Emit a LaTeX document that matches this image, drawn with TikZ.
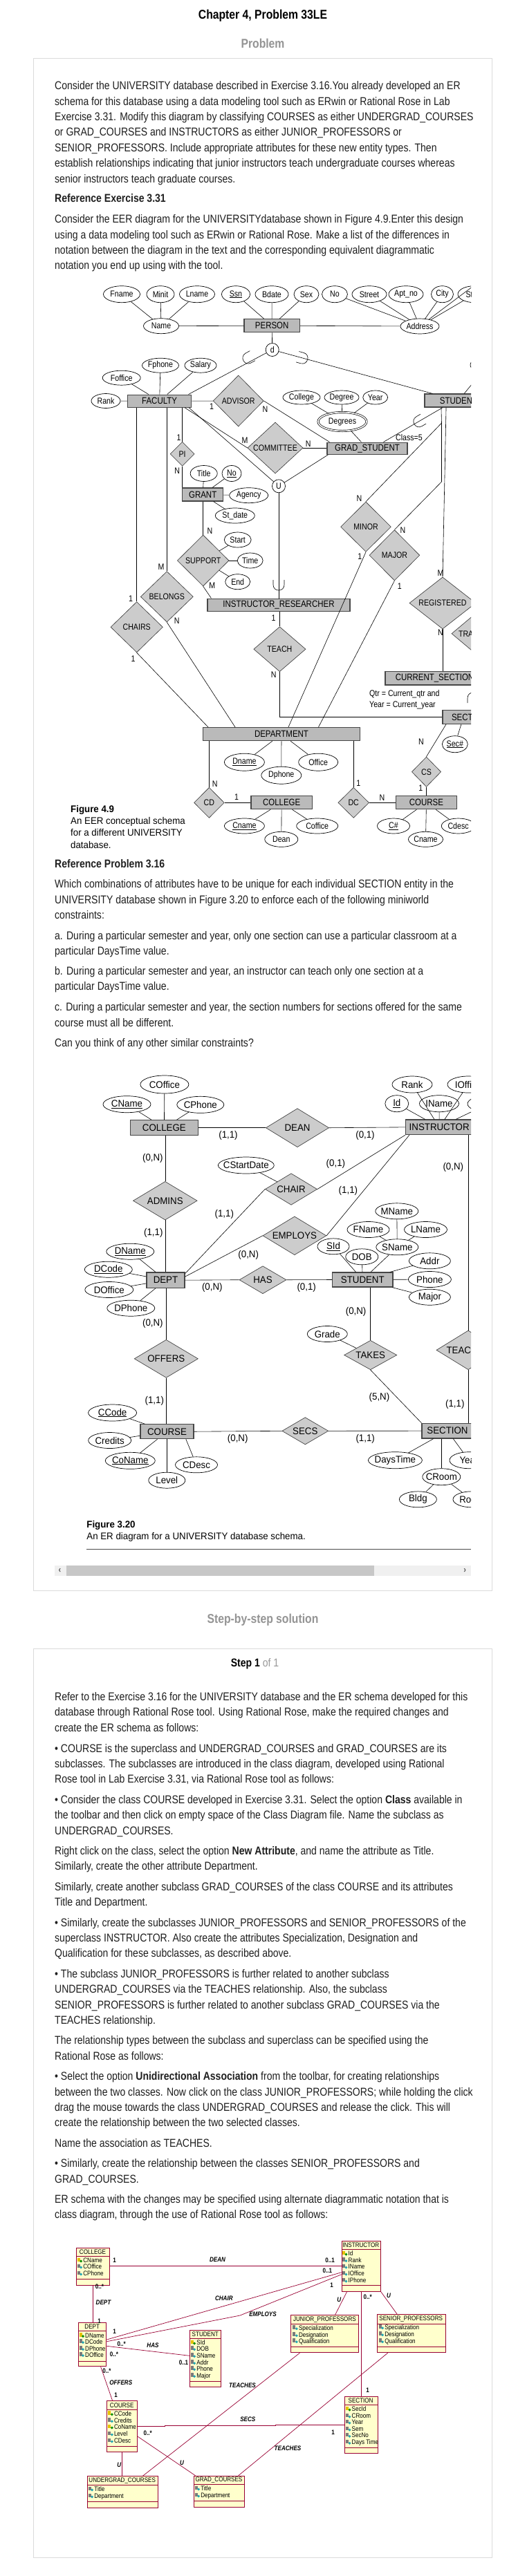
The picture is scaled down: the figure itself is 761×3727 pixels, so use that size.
\documentclass[tikz,border=0pt]{standalone}
\usepackage{fontspec}
\setmainfont{Liberation Sans}[FakeStretch=0.85]
\newfontfamily\figB{Liberation Sans}[FakeStretch=0.95]
\usetikzlibrary{shapes.geometric}
\definecolor{umlred}{HTML}{990033}
\definecolor{umlyel}{HTML}{FFFFCC}
\definecolor{icgray}{HTML}{7A7A7A}
\definecolor{iccyan}{HTML}{22A6B3}
\definecolor{icyel}{HTML}{E6C200}
\newcommand\fsz[1]{\fontsize{#1}{#1}\selectfont}
\newcommand\TL[2]{\node[txt] at (79,#1) {#2};}
\newcommand\At[5]{\node[att,minimum width=#4pt,minimum height=#5pt] (#1) at (#2) {};\node[albl] (#1-t) at (#1.center) {#3};}
\newcommand\Rl[5]{\node[rel,minimum width=#4pt,minimum height=#5pt] (#1) at (#2) {};\node[rlbl] (#1-t) at (#1.center) {#3};}
\newcommand\Cd[2]{\node[card] at (#1) {#2};}
\newcommand\cupmark[3]{\begin{scope}[shift={(#1,#2)},rotate=#3]\draw[conn] (-7,-8) -- (0,-8) .. controls (10.7,-8) and (10.7,8) .. (0,8) -- (-7,8);\end{scope}}
\newcommand\uA[3]{\fill[icgray] (#1,#2-3.5) rectangle (#1+4,#2+2);\fill[iccyan] (#1+5.5,#2-0.5) -- (#1+7.5,#2+1.5) -- (#1+5.5,#2+3.5) -- (#1+3.5,#2+1.5) -- cycle;\node[umlt] at (#1+8.5,#2+3.4) {#3};}
\newcommand\uK[3]{\fill[icyel] (#1,#2-3.5) rectangle (#1+4,#2+2);\fill[green!55!black] (#1+5.5,#2-0.5) -- (#1+7.5,#2+1.5) -- (#1+5.5,#2+3.5) -- (#1+3.5,#2+1.5) -- cycle;\node[umlt] at (#1+8.5,#2+3.4) {#3};}
\begin{document}
\begin{tikzpicture}[x=1pt,y=-1pt,
 txt/.style={anchor=base west,inner sep=0pt,font=\fsz{16.5},text=black!88},
 hd/.style={anchor=base,inner sep=0pt,font=\fsz{18.5}\bfseries},
 panel/.style={draw=black!14,line width=1pt},
 ent/.style={rectangle,draw=black!72,line width=1.1pt,fill=black!27,inner sep=0pt,font=\fsz{13.5}},
 rel/.style={diamond,draw=black!80,line width=0.6pt,fill=black!20,inner sep=0pt},
 att/.style={ellipse,draw=black,line width=0.7pt,fill=white,inner sep=0pt},
 albl/.style={inner sep=0pt,font=\fsz{12.5}},
 rlbl/.style={inner sep=0pt,font=\fsz{12.5}},
 card/.style={inner sep=0pt,font=\fsz{12.5}},
 conn/.style={draw=black,line width=0.6pt},
 uml/.style={rectangle,draw=umlred,fill=umlyel,line width=0.9pt,inner sep=0pt,anchor=north west},
 umll/.style={draw=umlred,line width=0.7pt},
 umln/.style={inner sep=0pt,font=\fsz{9.5}},
 umlt/.style={anchor=base west,inner sep=0pt,font=\fsz{9.5}},
 umlm/.style={inner sep=0pt,font=\fsz{9.5}\bfseries},
 umlr/.style={inner sep=0pt,font=\fsz{9.5}\bfseries\itshape}]
\useasboundingbox (0,0) rectangle (761,3727);
\fill[white] (0,0) rectangle (761,3727);
% ---------- headings and panels
\node[hd] (title) at (380,27.3) {Chapter 4, Problem 33LE};
\node[hd,text=black!42] (probhd) at (380,69) {Problem};
\draw[panel] (48.5,84.3) rectangle (711.7,2301);
\draw[panel] (48.5,2385) rectangle (711.7,3700);
\node[hd,text=black!42] (stephd) at (380,2348) {Step-by-step solution};
\node[anchor=base,inner sep=0pt,font=\fsz{16.5}] (step) at (368.5,2411) {\textbf{Step 1} \textcolor{black!40}{of 1}};
% ---------- problem text
\TL{129.3}{Consider the UNIVERSITY database described in Exercise 3.16.You already developed an ER}
\TL{152}{schema for this database using a data modeling tool such as ERwin or Rational Rose in Lab}
\TL{174.3}{Exercise 3.31. Modify this diagram by classifying COURSES as either UNDERGRAD\_COURSES}
\TL{196.7}{or GRAD\_COURSES and INSTRUCTORS as either JUNIOR\_PROFESSORS or}
\TL{219.3}{SENIOR\_PROFESSORS. Include appropriate attributes for these new entity types. Then}
\TL{241.3}{establish relationships indicating that junior instructors teach undergraduate courses whereas}
\TL{264}{senior instructors teach graduate courses.}
\TL{292.7}{\textbf{Reference Exercise 3.31}}
\TL{322}{Consider the EER diagram for the UNIVERSITYdatabase shown in Figure 4.9.Enter this design}
\TL{345}{using a data modeling tool such as ERwin or Rational Rose. Make a list of the differences in}
\TL{367}{notation between the diagram in the text and the corresponding equivalent diagrammatic}
\TL{389.3}{notation you end up using with the tool.}
% ---------- Figure 4.9
\begin{scope}
\clip (79,400) rectangle (681,1236);
\node[ent,minimum width=80.5pt,minimum height=19pt] (person) at (393.2,471.2) {PERSON};
\node[ent,minimum width=92.2pt,minimum height=18.3pt] (faculty) at (230.6,580.2) {FACULTY};
\node[ent,minimum width=98pt,minimum height=19pt] (student) at (663,579.5) {STUDENT};
\node[ent,minimum width=116pt,minimum height=17.3pt] (gradst) at (531,648.7) {GRAD\_STUDENT};
\node[ent,minimum width=59.2pt,minimum height=19pt] (grant) at (293.2,715.5) {GRANT};
\node[ent,minimum width=206pt,minimum height=18.3pt] (instres) at (403,875.2) {INSTRUCTOR\_RESEARCHER};
\node[ent,minimum width=143pt,minimum height=19.3pt] (cursec) at (628.5,981.3) {CURRENT\_SECTION};
\node[ent,minimum width=77pt,minimum height=19.6pt] (section) at (678.5,1037.5) {SECTION};
\node[ent,minimum width=226.7pt,minimum height=19pt] (dept) at (407,1062.2) {DEPARTMENT};
\node[ent,minimum width=88.5pt,minimum height=19pt] (college) at (407.2,1161.2) {COLLEGE};
\node[ent,minimum width=87.4pt,minimum height=19pt] (course) at (616.5,1161.2) {COURSE};
\Rl{advisor}{344.7,580}{ADVISOR}{73}{74}
\Rl{committee}{398,648}{COMMITTEE}{80}{74}
\Rl{pi}{263.6,656.7}{PI}{35}{35}
\Rl{support}{293.7,811}{SUPPORT}{74.6}{74}
\Rl{belongs}{241.3,863.3}{BELONGS}{76}{73.3}
\Rl{chairs}{197.7,907.3}{CHAIRS}{75.4}{73.3}
\Rl{teach}{404.4,939.2}{TEACH}{75.2}{65}
\Rl{minor}{529,762.2}{MINOR}{72.8}{72.3}
\Rl{major}{570.4,803.3}{MAJOR}{72.8}{73.3}
\Rl{registered}{640,872.5}{REGISTERED}{96}{75}
\Rl{transcript}{697,916.7}{TRANSCRIPT}{88}{74}
\Rl{cs}{616.5,1116.7}{CS}{42.3}{43.3}
\Rl{dc}{511.2,1161.3}{DC}{44.7}{44}
\Rl{cd}{302.4,1161.3}{CD}{43.7}{44}
\node[circle,draw,line width=0.7pt,fill=white,minimum size=19pt,inner sep=0pt,font=\fsz{12.5}] (dcirc) at (393.7,506) {d};
\node[circle,draw,line width=0.7pt,fill=white,minimum size=19pt,inner sep=0pt,font=\fsz{12.5}] (ucirc) at (403,703.3) {U};
\At{fname}{176,425.7}{Fname}{53}{24}
\At{minit}{232,425.7}{Minit}{40}{24}
\At{lname}{285,425.7}{Lname}{51}{24}
\At{ssn}{341,425.7}{\underline{Ssn}}{41}{24}
\At{bdate}{393,425.7}{Bdate}{48}{24}
\At{sex}{443,425.7}{Sex}{36}{24}
\At{pno}{484,425.7}{No}{37}{24}
\At{street}{534,425.7}{Street}{50}{24}
\At{aptno}{587,425.7}{Apt\_no}{50}{24}
\At{city}{639.5,425.7}{City}{32}{24}
\At{state}{686,425.7}{State}{48}{24}
\At{name}{233,471.7}{Name}{51}{22}
\At{address}{607,472}{Address}{56}{22}
\At{fphone}{232,528.7}{Fphone}{53}{21}
\At{salary}{290,528.7}{Salary}{46}{21}
\At{foffice}{175.7,546.7}{Foffice}{55}{21}
\At{rank}{153,580}{Rank}{42}{21}
\At{stux}{705,528}{}{50}{24}
\At{scoll}{436,575}{College}{54}{20}
\At{sdeg}{494,575}{Degree}{50}{20}
\At{syear}{542.7,575}{Year}{36}{20}
\node[att,double=white,double distance=1.6pt,minimum width=70pt,minimum height=27pt] (degrees) at (495,610) {};
\node[albl] (degrees-t) at (degrees.center) {Degrees};
\At{gtitle}{294.7,685}{Title}{39}{23}
\At{gno}{335,685}{\underline{No}}{28}{23}
\At{agency}{359.7,716.7}{Agency}{56}{22}
\At{stdate}{339.8,746}{St\_date}{57}{22}
\At{start}{343.7,781}{Start}{39}{22}
\At{time}{361.7,811}{Time}{37}{22}
\At{send}{343.7,841.7}{End}{36}{22}
\At{dname}{353.4,1102.7}{\underline{Dname}}{58}{25}
\At{doffice}{460.2,1102.7}{Office}{57}{25}
\At{dphone}{406.8,1121.7}{Dphone}{58}{25}
\At{secno}{657.8,1076.7}{\underline{Sec\#}}{37}{24}
\At{cno}{569,1195}{\underline{C\#}}{47}{22}
\At{crname}{615.5,1214.3}{Cname}{50}{22}
\At{cdesc}{662.6,1195}{Cdesc}{48.6}{22}
\At{colname}{353.4,1195}{\underline{Cname}}{58}{22}
\At{coffice}{458.7,1195}{Coffice}{60}{22}
\At{dean}{406.8,1214.3}{Dean}{48}{22}
% connectors
\draw[conn] (fname) -- (name); \draw[conn] (minit) -- (name); \draw[conn] (lname) -- (name);
\draw[conn] (name) -- (person); \draw[conn] (person) -- (address);
\draw[conn] (ssn) -- (person); \draw[conn] (bdate) -- (person); \draw[conn] (sex) -- (person);
\draw[conn] (pno) -- (address); \draw[conn] (street) -- (address); \draw[conn] (aptno) -- (address);
\draw[conn] (city) -- (address); \draw[conn] (state) -- (address);
\coordinate (zipc) at (700,402);
\draw[conn] (address) -- (zipc);
\draw[conn] (person) -- (dcirc);
\draw[conn] (dcirc) -- ([xshift=-4.7pt]faculty.north east);
\draw[conn] (dcirc) -- ([xshift=12pt]student.north west);
\draw[conn] (student) -- (stux);
\draw[conn] (rank) -- (faculty); \draw[conn] (foffice) -- (faculty);
\draw[conn] (fphone) -- (faculty); \draw[conn] (salary) -- (faculty);
\draw[conn] (faculty) -- (advisor);
\draw[conn] (advisor.east) -- ([xshift=4pt]gradst.north west);
\draw[conn] (scoll) -- (degrees); \draw[conn] (sdeg) -- (degrees); \draw[conn] (syear) -- (degrees);
\draw[conn] (degrees) -- (gradst);
\draw[conn] ([xshift=-10pt]faculty.south east) -- (committee.west);
\draw[conn] (committee.east) -- (committee.east -| gradst.west);
\draw[conn] ([xshift=-4pt]faculty.south east) -- (ucirc);
\draw[conn] ([xshift=2pt]gradst.south west) -- (ucirc);
\draw[conn] (ucirc) -- (ucirc |- instres.north);
\draw[conn] ([xshift=26.8pt]student.south west) -- ([xshift=82pt]gradst.north west);
\draw[conn] (faculty.south -| pi) -- (pi.north);
\draw[conn] (pi.south) -- (pi.south |- grant.north);
\draw[conn] (gtitle) -- (grant); \draw[conn] (gno) -- (grant);
\draw[conn] (agency) -- (grant); \draw[conn] (stdate) -- (grant);
\draw[conn] (grant.south -| support) -- (support.north);
\draw[conn] (support) -- (start); \draw[conn] (support) -- (time); \draw[conn] (support) -- (send);
\draw[conn] (support.south) -- ([xshift=6pt]instres.north west);
\draw[conn] (faculty.south -| chairs) -- (chairs.north);
\draw[conn] (faculty.south -| belongs) -- (belongs.north);
\draw[conn] (chairs.south) -- ([xshift=8pt]dept.north west);
\draw[conn] (belongs.south) -- ([xshift=47pt]dept.north west);
\draw[conn] (instres.south -| teach) -- (teach.north);
\draw[conn] (teach.south) -- (teach.south |- section.west) -- (section.west);
\coordinate (mnb) at (638.5,612);
\coordinate (mjb) at (638.5,697);
\draw[conn] ([xshift=24.5pt]student.south west) -- (mnb) -- (minor.north);
\draw[conn] (mnb) -- (mjb) -- (major.north);
\draw[conn] ([xshift=31.6pt]student.south west) -- (registered.north);
\draw[conn] (minor.south) -- ([xshift=123.8pt]dept.north west);
\draw[conn] (major.south) -- ([xshift=167.3pt]dept.north west);
\draw[conn] (registered.south) -- (registered.south |- cursec.north);
\draw[conn] ([xshift=5.5pt]cursec.south east) -- ([xshift=5.5pt]cursec.south east |- section.north);
\draw[conn] ([xshift=27.5pt]section.south west) -- (secno);
\draw[conn] ([xshift=5.6pt]section.south west) -- (cs.north);
\draw[conn] (cs.south) -- (cs.south |- course.north);
\draw[conn] (dept.south -| dc) -- (dc.north);
\draw[conn] (dc.east) -- (dc.east -| course.west);
\draw[conn] (dept.south -| cd) -- (cd.north);
\draw[conn] (cd.east) -- (cd.east -| college.west);
\draw[conn] (dname) -- (dept); \draw[conn] (dphone) -- (dept); \draw[conn] (doffice) -- (dept);
\draw[conn] (cno) -- (course); \draw[conn] (crname) -- (course); \draw[conn] (cdesc) -- (course);
\draw[conn] (colname) -- (college); \draw[conn] (coffice) -- (college); \draw[conn] (dean) -- (college);
\cupmark{359}{518}{208.4}
\cupmark{437}{518.1}{-15.6}
\cupmark{606}{609.7}{210.7}
\cupmark{403}{846}{-90}
\cupmark{684}{1010}{90}
% cardinalities
\Cd{306,588}{1} \Cd{383.5,591.7}{N}
\Cd{354,637}{M} \Cd{445.6,641.7}{N}
\Cd{258.7,632.7}{1} \Cd{256.3,681}{N}
\Cd{303.4,768.3}{N} \Cd{306.8,846.7}{M}
\Cd{233,820}{M} \Cd{255.8,898.3}{N}
\Cd{189,865.7}{1} \Cd{192.7,952.7}{1}
\Cd{395.6,894}{1} \Cd{395.6,975.7}{N}
\Cd{519.4,721}{N} \Cd{520.4,805}{1}
\Cd{582.5,766.7}{N} \Cd{577.7,847.7}{1}
\Cd{637,829.3}{M} \Cd{637,915}{N}
\Cd{609,1073.3}{N} \Cd{608.3,1140}{1}
\Cd{518.4,1132.7}{1} \Cd{552.4,1154}{N}
\Cd{310.7,1134.3}{N} \Cd{342.2,1152.7}{1}
\node[card] (cls5) at (591.5,633.3) {Class=5};
\node[card,anchor=base west] (qtr1) at (534,1007.5) {Qtr = Current\_qtr and};
\node[card,anchor=base west] (qtr2) at (534,1023.5) {Year = Current\_year};
% caption
\node[anchor=base west,inner sep=0pt,font=\figB\fsz{14}\bfseries] (cap49) at (102,1175) {Figure 4.9};
\node[anchor=base west,inner sep=0pt,font=\figB\fsz{14}] (cap49a) at (102,1192.3) {An EER conceptual schema};
\node[anchor=base west,inner sep=0pt,font=\figB\fsz{14}] (cap49b) at (102,1209.7) {for a different UNIVERSITY};
\node[anchor=base west,inner sep=0pt,font=\figB\fsz{14}] (cap49c) at (102,1227) {database.};
\end{scope}
% ---------- reference problem text
\TL{1255.3}{\textbf{Reference Problem 3.16}}
\TL{1284.3}{Which combinations of attributes have to be unique for each individual SECTION entity in the}
\TL{1307.3}{UNIVERSITY database shown in Figure 3.20 to enforce each of the following miniworld}
\TL{1329}{constraints:}
\TL{1359.3}{a. During a particular semester and year, only one section can use a particular classroom at a}
\TL{1381}{particular DaysTime value.}
\TL{1410}{b. During a particular semester and year, an instructor can teach only one section at a}
\TL{1432.7}{particular DaysTime value.}
\TL{1462}{c. During a particular semester and year, the section numbers for sections offered for the same}
\TL{1485}{course must all be different.}
\TL{1514.3}{Can you think of any other similar constraints?}
% ---------- Figure 3.20
\begin{scope}[ent/.append style={font=\figB\fsz{14}},
  albl/.style={inner sep=0pt,font=\figB\fsz{14}},
  rlbl/.style={inner sep=0pt,font=\figB\fsz{14}},
  card/.style={inner sep=0pt,font=\figB\fsz{14}}]
\clip (79,1528) rectangle (681,2252);
\node[ent,minimum width=98.1pt,minimum height=22pt] (college2) at (237.35,1631.7) {COLLEGE};
\node[ent,minimum width=97.6pt,minimum height=21.7pt] (instr2) at (635.2,1630.85) {INSTRUCTOR};
\node[ent,minimum width=55pt,minimum height=22.3pt] (dept2) at (239.5,1852.15) {DEPT};
\node[ent,minimum width=87.4pt,minimum height=21pt] (student2) at (524.3,1851.5) {STUDENT};
\node[ent,minimum width=77pt,minimum height=21pt] (course2) at (241.5,2071.2) {COURSE};
\node[ent,minimum width=74pt,minimum height=21.7pt] (section2) at (647,2070.15) {SECTION};
\Rl{dean2}{430,1631.7}{DEAN}{91.2}{56}
\Rl{chair2}{421,1720.5}{CHAIR}{75.2}{45.6}
\Rl{admins}{238.8,1737.2}{ADMINS}{92.7}{55.7}
\Rl{employs}{425.9,1787.8}{EMPLOYS}{91.8}{55.7}
\Rl{has}{380,1851.7}{HAS}{68}{40}
\Rl{offers}{240.3,1965.8}{OFFERS}{92.2}{55}
\Rl{takes}{535.7,1960.5}{TAKES}{76.2}{42.4}
\Rl{teaches2}{677,1953.3}{TEACHES}{92}{56.7}
\Rl{secs}{441.3,2070.3}{SECS}{67}{39.3}
\At{coffice2}{237.9,1569}{COffice}{70}{26}
\At{cname2}{183.5,1597.7}{\underline{CName}}{69}{24}
\At{cphone2}{289.8,1598.3}{CPhone}{68}{24}
\At{rank2}{596,1569}{Rank}{58}{24}
\At{ioffice2}{677,1569}{IOffice}{60}{24}
\At{id2}{573.8,1596.7}{\underline{Id}}{34}{24}
\At{iname2}{635,1596.7}{IName}{57}{24}
\At{iphone2}{706,1597}{IPhone}{60}{24}
\At{cstart}{355.8,1686}{CStartDate}{81}{24}
\At{mname}{573.8,1752.3}{MName}{62}{23}
\At{fname2}{532.5,1779}{FName}{61}{23}
\At{lname2}{615.5,1779}{LName}{62}{23}
\At{sname}{574.3,1804.3}{SName}{61}{23}
\At{sid}{482,1803.3}{\underline{SId}}{46}{23}
\At{dob}{523.3,1818.3}{DOB}{47}{23}
\At{addr}{621.4,1824.3}{Addr}{60}{23}
\At{phone}{621.4,1851}{Phone}{62}{23}
\At{major2}{621.4,1876.7}{Major}{60}{23}
\At{dname2}{188.3,1810.7}{\underline{DName}}{69}{23}
\At{dcode2}{156.8,1836.7}{\underline{DCode}}{69}{23}
\At{doffice2}{157.8,1866}{DOffice}{70}{23}
\At{dphone2}{189.3,1892.7}{DPhone}{69}{23}
\At{grade}{473.3,1930}{Grade}{58}{23}
\At{ccode}{162.6,2044}{\underline{CCode}}{70}{24}
\At{credits}{158.7,2084}{Credits}{62}{23}
\At{coname}{188.3,2113.3}{\underline{CoName}}{72}{24}
\At{level}{241.3,2141.7}{Level}{53}{23}
\At{cdesc2}{284,2119.3}{CDesc}{61}{23}
\At{daystime}{571.4,2112.7}{DaysTime}{78}{24}
\At{year2}{678,2112.7}{Year}{56}{24}
\At{croom}{638.3,2136.7}{CRoom}{55}{24}
\At{bldg}{604.4,2169.3}{Bldg}{54}{23}
\At{room}{682,2169.3}{Room}{54}{23}
\draw[conn] (cname2) -- (college2); \draw[conn] (coffice2) -- (college2); \draw[conn] (cphone2) -- (college2);
\draw[conn] (college2.east) -- (dean2.west); \draw[conn] (dean2.east) -- (instr2.west);
\draw[conn] (rank2) -- (instr2); \draw[conn] (id2) -- (instr2); \draw[conn] (iname2) -- (instr2);
\draw[conn] (ioffice2) -- (instr2); \draw[conn] (iphone2) -- (instr2);
\draw[conn] (college2.south -| admins) -- (admins.north);
\draw[conn] (admins.south) -- (admins.south |- dept2.north);
\draw[conn] (cstart) -- (chair2);
\draw[conn] ([yshift=-2.3pt]dept2.north east) -- (chair2.west);
\draw[conn] (chair2.east) -- (instr2.south west);
\draw[conn] ([yshift=-6.7pt]dept2.north east) -- (employs.west);
\draw[conn] (employs.east) -- ([xshift=6pt]instr2.south west);
\draw[conn] (instr2.south -| teaches2) -- (teaches2.north);
\draw[conn] (teaches2.south) -- (teaches2.south |- section2.north);
\draw[conn] (dept2.east) -- (has.west); \draw[conn] (has.east) -- (student2.west);
\draw[conn] (dname2) -- (dept2); \draw[conn] (dcode2) -- (dept2); \draw[conn] (doffice2) -- (dept2); \draw[conn] (dphone2) -- (dept2);
\draw[conn] (sid) -- (student2); \draw[conn] (dob) -- (student2); \draw[conn] (sname) -- (student2);
\draw[conn] (addr) -- (student2); \draw[conn] (phone) -- (student2); \draw[conn] (major2) -- (student2);
\draw[conn] (fname2) -- (sname); \draw[conn] (mname) -- (sname); \draw[conn] (lname2) -- (sname);
\draw[conn] (dept2.south -| offers) -- (offers.north);
\draw[conn] (offers.south) -- (offers.south |- course2.north);
\draw[conn] (student2.south -| takes) -- (takes.north);
\draw[conn] (grade) -- (takes);
\draw[conn] (takes.south) -- (section2.north west);
\draw[conn] (course2.east) -- (secs.west); \draw[conn] (secs.east) -- (section2.west);
\draw[conn] (ccode) -- (course2); \draw[conn] (credits) -- (course2); \draw[conn] (coname) -- (course2);
\draw[conn] (course2.south -| level) -- (level.north);
\draw[conn] ([xshift=66.4pt]course2.south west) -- (cdesc2);
\draw[conn] (daystime) -- (section2); \draw[conn] (year2) -- (section2);
\draw[conn] (section2.south -| croom) -- (croom.north);
\draw[conn] (bldg) -- (croom); \draw[conn] (room) -- (croom);
\Cd{330,1642.7}{(1,1)} \Cd{528,1642.7}{(0,1)}
\Cd{220.9,1676}{(0,N)} \Cd{485.4,1684.3}{(0,1)} \Cd{503.4,1722.7}{(1,1)}
\Cd{655.3,1689.3}{(0,N)} \Cd{324.3,1757.3}{(1,1)} \Cd{221.8,1784.3}{(1,1)}
\Cd{359.2,1815.7}{(0,N)} \Cd{306.8,1862.7}{(0,N)} \Cd{443.2,1862.7}{(0,1)}
\Cd{220.9,1915}{(0,N)} \Cd{514.6,1898.3}{(0,N)}
\Cd{223.3,2026.7}{(1,1)} \Cd{548.5,2021.7}{(5,N)} \Cd{657.8,2031.7}{(1,1)}
\Cd{343.7,2081.7}{(0,N)} \Cd{528.2,2081.7}{(1,1)}
\node[anchor=base west,inner sep=0pt,font=\figB\fsz{14}\bfseries] (cap320) at (125.2,2210) {Figure 3.20};
\node[anchor=base west,inner sep=0pt,font=\figB\fsz{14}] (cap320a) at (125.2,2227.3) {An ER diagram for a UNIVERSITY database schema.};
\coordinate (rulea) at (125,2241.7); \coordinate (ruleb) at (681,2241.7);
\draw[black!70,line width=1.5pt] (rulea) -- (ruleb);
\end{scope}
% ---------- scrollbar
\fill[black!6] (79,2265) rectangle (681,2280);
\fill[black!22] (96,2265) rectangle (541,2280);
\node[inner sep=0pt,font=\fsz{13}\bfseries,text=black!65] (arrL) at (86.4,2272.5) {‹};
\node[inner sep=0pt,font=\fsz{13}\bfseries,text=black!65] (arrR) at (672.3,2272.5) {›};
% ---------- solution text
\TL{2460.3}{Refer to the Exercise 3.16 for the UNIVERSITY database and the ER schema developed for this}
\TL{2482.7}{database through Rational Rose tool. Using Rational Rose, make the required changes and}
\TL{2505.3}{create the ER schema as follows:}
\TL{2535.3}{• COURSE is the superclass and UNDERGRAD\_COURSES and GRAD\_COURSES are its}
\TL{2557.3}{subclasses. The subclasses are introduced in the class diagram, developed using Rational}
\TL{2579.3}{Rose tool in Lab Exercise 3.31, via Rational Rose tool as follows:}
\TL{2609.3}{• Consider the class COURSE developed in Exercise 3.31. Select the option \textbf{Class} available in}
\TL{2631.3}{the toolbar and then click on empty space of the Class Diagram file. Name the subclass as}
\TL{2654}{UNDERGRAD\_COURSES.}
\TL{2683.3}{Right click on the class, select the option \textbf{New Attribute}, and name the attribute as Title.}
\TL{2705.3}{Similarly, create the other attribute Department.}
\TL{2735.3}{Similarly, create another subclass GRAD\_COURSES of the class COURSE and its attributes}
\TL{2757}{Title and Department.}
\TL{2787}{• Similarly, create the subclasses JUNIOR\_PROFESSORS and SENIOR\_PROFESSORS of the}
\TL{2809.3}{superclass INSTRUCTOR. Also create the attributes Specialization, Designation and}
\TL{2831.3}{Qualification for these subclasses, as described above.}
\TL{2861}{• The subclass JUNIOR\_PROFESSORS is further related to another subclass}
\TL{2883.3}{UNDERGRAD\_COURSES via the TEACHES relationship. Also, the subclass}
\TL{2906}{SENIOR\_PROFESSORS is further related to another subclass GRAD\_COURSES via the}
\TL{2928.3}{TEACHES relationship.}
\TL{2957.7}{The relationship types between the subclass and superclass can be specified using the}
\TL{2980}{Rational Rose as follows:}
\TL{3009.3}{• Select the option \textbf{Unidirectional Association} from the toolbar, for creating relationships}
\TL{3032}{between the two classes. Now click on the class JUNIOR\_PROFESSORS; while holding the click}
\TL{3054.3}{drag the mouse towards the class UNDERGRAD\_COURSES and release the click. This will}
\TL{3076}{create the relationship between the two selected classes.}
\TL{3106}{Name the association as TEACHES.}
\TL{3135.3}{• Similarly, create the relationship between the classes SENIOR\_PROFESSORS and}
\TL{3158.3}{GRAD\_COURSES.}
\TL{3187.7}{ER schema with the changes may be specified using alternate diagrammatic notation that is}
\TL{3209.3}{class diagram, through the use of Rational Rose tool as follows:}
% ---------- UML class diagram
\node[uml,minimum width=47.6pt,minimum height=54pt] (uCollege) at (110.2,3251.7) {};
\node[uml,minimum width=56.3pt,minimum height=73.3pt] (uInstr) at (493.7,3241.7) {};
\node[uml,minimum width=40.4pt,minimum height=63.3pt] (uDept) at (113,3360) {};
\node[uml,minimum width=45.1pt,minimum height=82.6pt] (uStudent) at (274.3,3370.7) {};
\node[uml,minimum width=98pt,minimum height=54pt] (uJunior) at (420.4,3349.3) {};
\node[uml,minimum width=99pt,minimum height=55pt] (uSenior) at (544.7,3348.3) {};
\node[uml,minimum width=43.6pt,minimum height=74pt] (uCourse) at (154.4,3473.3) {};
\node[uml,minimum width=48pt,minimum height=82.6pt] (uSection) at (497.6,3466.7) {};
\node[uml,minimum width=102pt,minimum height=45.4pt] (uUnder) at (125.7,3582.3) {};
\node[uml,minimum width=73.8pt,minimum height=45pt] (uGrad) at (279.6,3581.7) {};
\draw[umll] (110.2,3264.3) -- (157.8,3264.3) (110.2,3297.3) -- (157.8,3297.3);
\draw[umll] (493.7,3254.3) -- (550,3254.3) (493.7,3306.7) -- (550,3306.7);
\draw[umll] (113,3372.3) -- (153.4,3372.3) (113,3416) -- (153.4,3416);
\draw[umll] (274.3,3383.3) -- (319.4,3383.3) (274.3,3445) -- (319.4,3445);
\draw[umll] (420.4,3362.3) -- (518.4,3362.3) (420.4,3395) -- (518.4,3395);
\draw[umll] (544.7,3362) -- (643.7,3362) (544.7,3395) -- (643.7,3395);
\draw[umll] (154.4,3486.7) -- (198,3486.7) (154.4,3539) -- (198,3539);
\draw[umll] (497.6,3479.3) -- (545.6,3479.3) (497.6,3541.3) -- (545.6,3541.3);
\draw[umll] (125.7,3595.7) -- (227.7,3595.7) (125.7,3619.3) -- (227.7,3619.3);
\draw[umll] (279.6,3594.3) -- (353.4,3594.3) (279.6,3618.3) -- (353.4,3618.3);
\node[umln] (nCollege) at (134,3258) {COLLEGE};
\node[umln] (nInstr) at (521.8,3248) {INSTRUCTOR};
\node[umln] (nDept) at (133.2,3366) {DEPT};
\node[umln] (nStudent) at (296.8,3377) {STUDENT};
\node[umln] (nJunior) at (469.4,3355.8) {JUNIOR\_PROFESSORS};
\node[umln] (nSenior) at (594.2,3355.3) {SENIOR\_PROFESSORS};
\node[umln] (nCourse) at (176.2,3480) {COURSE};
\node[umln] (nSection) at (521.6,3473) {SECTION};
\node[umln] (nUnder) at (176.7,3589) {UNDERGRAD\_COURSES};
\node[umln] (nGrad) at (316.5,3588) {GRAD\_COURSES};
\uK{111.7}{3270}{CName} \uA{111.7}{3279}{COffice} \uA{111.7}{3289}{CPhone}
\uK{495}{3260}{Id} \uA{495}{3269.7}{Rank} \uA{495}{3279}{IName} \uA{495}{3289}{IOffice} \uA{495}{3299}{IPhone}
\uK{114.5}{3378.7}{DName} \uA{114.5}{3387.7}{DCode} \uA{114.5}{3397.7}{DPhone} \uA{114.5}{3406.7}{DOffice}
\uK{275.7}{3389}{SId} \uA{275.7}{3397.7}{DOB} \uA{275.7}{3407.7}{SName} \uA{275.7}{3417.7}{Addr} \uA{275.7}{3426.7}{Phone} \uA{275.7}{3436.7}{Major}
\uA{423.3}{3367.7}{Specialization} \uA{423.3}{3377.7}{Designation} \uA{423.3}{3386.7}{Qualification}
\uA{547.6}{3366.7}{Specialization} \uA{547.6}{3376.7}{Designation} \uA{547.6}{3386.7}{Qualification}
\uK{156.3}{3491.7}{CCode} \uA{156.3}{3501.7}{Credits} \uK{156.3}{3511}{CoName} \uA{156.3}{3521}{Level} \uA{156.3}{3531}{CDesc}
\uK{500}{3485}{SecId} \uA{500}{3495}{CRoom} \uA{500}{3504}{Year} \uA{500}{3514}{Sem} \uA{500}{3523.3}{SecNo} \uA{500}{3533.3}{Days Time}
\uA{127.7}{3601}{Title} \uA{127.7}{3611}{Department}
\uA{281.6}{3600}{Title} \uA{281.6}{3610}{Department}
% associations
\draw[umll] ([yshift=-26.6pt]uCollege.north east) -- ([yshift=-36.6pt]uInstr.north west);
\draw[umll] (uCollege.south) -- (uCollege.south |- uDept.north);
\draw[umll] ([yshift=-25pt]uDept.north east) -- ([yshift=-46pt]uInstr.north west);
\coordinate (empB) at (347,3350);
\draw[umll] ([yshift=-27.7pt]uDept.north east) -- (empB) -- ([yshift=-49pt]uInstr.north west);
\draw[umll] ([yshift=-34.3pt]uDept.north east) -- ([yshift=-37.6pt]uStudent.north west);
\draw[umll] ([xshift=32.6pt]uDept.south west) -- ([xshift=8.2pt]uCourse.north west);
\coordinate (secA) at (238.8,3510); \coordinate (secB) at (238.8,3509.3);
\coordinate (secC) at (398,3509.3); \coordinate (secD) at (398,3508.3);
\draw[umll] ([yshift=-36.7pt]uCourse.north east) -- (secA) -- (secB) -- (secC) -- (secD) -- ([yshift=-41.6pt]uSection.north west);
\draw[umll] ([xshift=7.8pt]uInstr.south west) -- ([xshift=64.1pt]uJunior.north west);
\draw[umll] (uInstr.south east) -- ([xshift=29.6pt]uSenior.north west);
\draw[umll] (uInstr.south) -- (uInstr.south |- uSection.north);
\draw[umll] ([xshift=13.1pt]uJunior.south west) -- ([xshift=80.6pt]uUnder.north west);
\draw[umll] ([xshift=16pt]uSenior.south west) -- ([xshift=65.1pt]uGrad.north west);
\draw[umll] (uCourse.south) -- (uCourse.south |- uUnder.north);
\draw[umll] ([yshift=-51.7pt]uCourse.north east) -- ([xshift=2.9pt]uGrad.north west);
\node[umlm] at (165.5,3270) {1};
\node[umlm] at (477,3270) {0..1};
\node[umlm] at (473.3,3285) {0..1};
\node[umlm] at (479.6,3306) {1};
\node[umlm] at (144,3308.3) {0..*};
\node[umlm] at (143.7,3358.3) {1};
\node[umlm] at (165.5,3373.3) {1};
\node[umlm] at (175.7,3390.7) {0..*};
\node[umlm] at (165,3405.7) {0..*};
\node[umlm] at (265.5,3417.7) {0..1};
\node[umlm] at (531.6,3322.7) {0..*};
\node[umlm] at (531.6,3458.3) {1};
\node[umlm] at (154.4,3430) {0..*};
\node[umlm] at (167.5,3465) {1};
\node[umlm] at (213.6,3520) {0..*};
\node[umlm] at (481.6,3519.3) {1};
\node[umlr] at (314.6,3269) {DEAN};
\node[umlr] at (149.5,3331) {DEPT};
\node[umlr] at (323.8,3325) {CHAIR};
\node[umlr] at (380,3348.3) {EMPLOYS};
\node[umlr] at (221,3393.3) {HAS};
\node[umlr] at (490.3,3327.7) {U};
\node[umlr] at (562.1,3321) {U};
\node[umlr] at (350.5,3450.7) {TEACHES};
\node[umlr] at (416,3541.7) {TEACHES};
\node[umlr] at (174.8,3446.7) {OFFERS};
\node[umlr] at (358.3,3500) {SECS};
\node[umlr] at (172.3,3566.7) {U};
\node[umlr] at (263,3563.3) {U};
\end{tikzpicture}
\end{document}
